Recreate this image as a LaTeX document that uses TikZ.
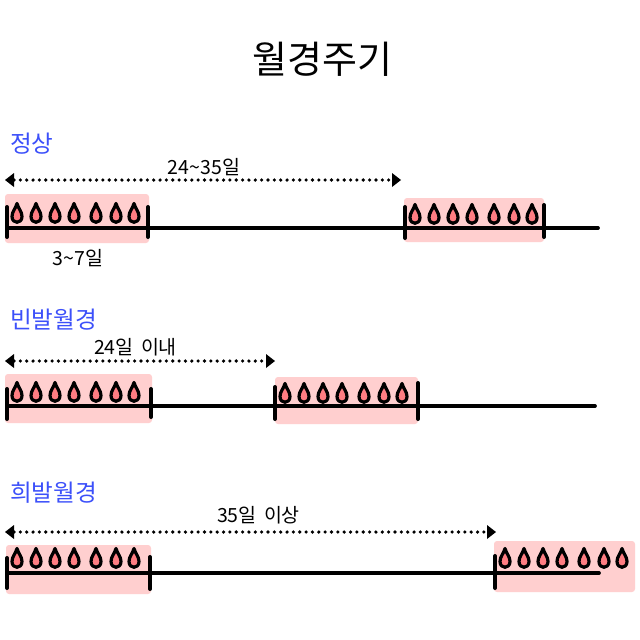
\documentclass[tikz,border=0pt]{standalone}
\usepackage{fontspec}
\setmainfont{Noto Sans CJK KR}[Scale=1]
\usetikzlibrary{arrows.meta}
\definecolor{bandpink}{RGB}{255,207,207}
\definecolor{dropfill}{RGB}{255,125,130}
\definecolor{headblue}{RGB}{60,80,250}
\tikzset{
  x=1pt,y=-1pt,
  band/.style={fill=bandpink,draw=none,rounded corners=3pt},
  axisline/.style={line width=3.7pt,line cap=round,black},
  tick/.style={line width=4pt,line cap=round,black},
  drop/.style={draw=black,line width=3.2pt,fill=dropfill,line join=round},
  span/.style={line width=3.6pt,black,dash pattern=on 0pt off 6.35pt,line cap=round,
     {Triangle[length=9pt,width=14pt,line width=0pt]}-{Triangle[length=9pt,width=14pt,line width=0pt]}},
  heading/.style={text=headblue,font=\fontsize{23.6}{26}\selectfont,anchor=west,inner sep=0pt},
  note/.style={text=black,font=\fontsize{19.5}{22}\selectfont,inner sep=0pt},
  title/.style={text=black,font=\fontsize{38}{44}\selectfont,inner sep=0pt}
}
\newcommand{\onedrop}[2]{%
  \draw[drop] (#1,#2-9.5) .. controls (#1+1.5,#2-4) and (#1+5,#2-1.5) .. (#1+5,#2+3.5)
     .. controls (#1+5,#2+11.2) and (#1-5,#2+11.2) .. (#1-5,#2+3.5)
     .. controls (#1-5,#2-1.5) and (#1-1.5,#2-4) .. cycle;}
\newcommand{\dropset}[2]{%
  \foreach \dx in {10,29,48,67,89,109,127} {\onedrop{#1+\dx}{#2}}}
\begin{document}
\begin{tikzpicture}
\useasboundingbox (0,0) rectangle (640,640);
\fill[white] (0,0) rectangle (640,640);
\node[title] (t) at (322.5,59) {월경주기};

% row 1
\node[heading] (h1) at (10,144) {정상};
\fill[band] (5,194) rectangle (149,243);
\fill[band] (404,198) rectangle (544,242);
\dropset{7}{213}
\dropset{405}{214}
\coordinate (a1) at (7,228); \coordinate (b1) at (598,228);
\draw[axisline] (a1) -- (b1);
\draw[tick] (7,207) -- (7,237);
\draw[tick] (148,207) -- (148,237);
\draw[tick] (405,207) -- (405,238);
\draw[tick] (544,205) -- (544,237);
\coordinate (s1) at (5,180); \coordinate (e1) at (401,180);
\draw[span] (s1) -- (e1);
\node[note] (n1) at (204,167) {24\textasciitilde 35일};
\node[note] (n1b) at (78,258) {3\textasciitilde 7일};

% row 2
\node[heading] (h2) at (10,320) {빈발월경};
\fill[band] (5,374) rectangle (152,423);
\fill[band] (275,377) rectangle (418,424);
\dropset{7}{392}
\dropset{275}{393}
\coordinate (a2) at (7,406); \coordinate (b2) at (595,406);
\draw[axisline] (a2) -- (b2);
\draw[tick] (7,389) -- (7,419);
\draw[tick] (151,389) -- (151,417);
\draw[tick] (275,387) -- (275,419);
\draw[tick] (418,383) -- (418,419);
\coordinate (s2) at (5,361); \coordinate (e2) at (275,361);
\draw[span] (s2) -- (e2);
\node[note] (n2) at (135.5,347) {24일\hspace{3pt} 이내};

% row 3
\node[heading] (h3) at (10,493) {희발월경};
\fill[band] (6,545) rectangle (151,594);
\fill[band] (494,541) rectangle (635,592);
\dropset{7}{558}
\dropset{495}{558}
\coordinate (a3) at (7,573); \coordinate (b3) at (599,573);
\draw[axisline] (a3) -- (b3);
\draw[tick] (7,558) -- (7,588);
\draw[tick] (150,557) -- (150,589);
\draw[tick] (495,556) -- (495,588);
\coordinate (s3) at (5,532); \coordinate (e3) at (496,532);
\draw[span] (s3) -- (e3);
\node[note] (n3) at (258.5,515) {35일\hspace{3pt} 이상};
\end{tikzpicture}
\end{document}
